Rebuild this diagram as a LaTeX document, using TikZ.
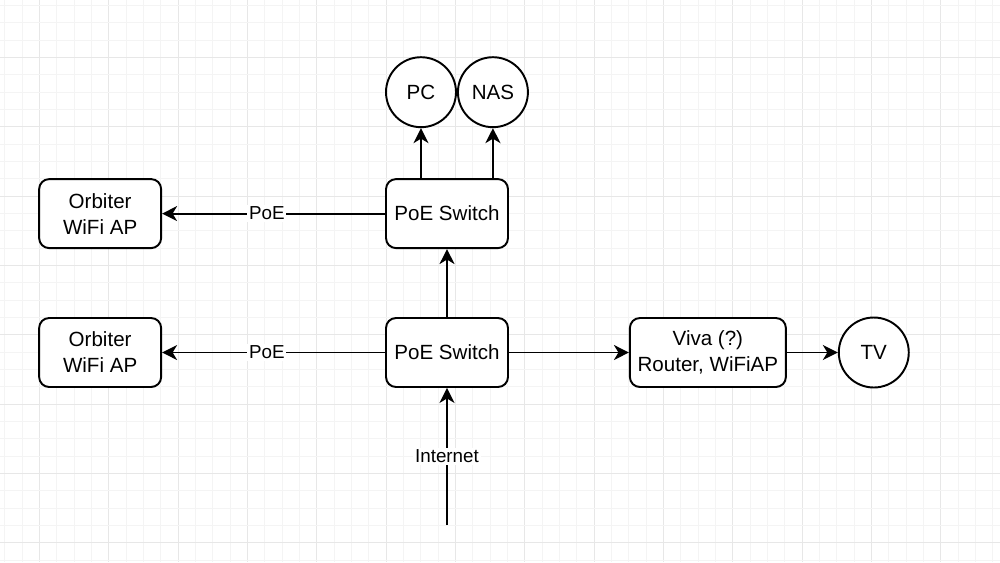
\documentclass[tikz,border=0pt]{standalone}
\usepackage{fontspec}
\setmainfont{Liberation Sans}
\usepackage{tikz}
\usetikzlibrary{arrows.meta,positioning}
\definecolor{gridminor}{HTML}{F4F4F4}
\definecolor{gridmajor}{HTML}{E7E7E7}
\tikzset{
  devbox/.style={rounded corners=0.2cm, draw=black, line width=1.1pt, fill=white, align=center, minimum width=2.44cm, minimum height=1.38cm, font=\fontsize{11.7}{14.8}\selectfont},
  endpt/.style={circle, draw=black, line width=1.1pt, fill=white, minimum size=1.4cm, inner sep=0pt, font=\fontsize{11.7}{14}\selectfont},
  link/.style={-{Stealth[length=3mm, width=3mm, inset=0.9mm]}, line width=1.1pt, draw=black},
  tag/.style={fill=white, inner sep=1pt, font=\fontsize{10.7}{12}\selectfont}
}

\begin{document}
\begin{tikzpicture}[x=0.02cm, y=-0.02cm]
  % background and grid
  \fill[white] (0,0) rectangle (1000,562);
  \useasboundingbox (0,0) rectangle (1000,562);
  \foreach \i in {0,...,57} {
    \pgfmathsetmacro{\gx}{round(4.33+17.333*\i)+0.5}
    \pgfmathtruncatemacro{\ismajor}{mod(\i+2,4)==0}
    \ifnum\ismajor=1
      \draw[gridmajor, line width=0.02cm] (\gx,0) -- (\gx,562);
    \else
      \draw[gridminor, line width=0.02cm] (\gx,0) -- (\gx,562);
    \fi
  }
  \foreach \j in {0,...,32} {
    \pgfmathsetmacro{\gy}{round(4.97+17.333*\j)+0.5}
    \pgfmathtruncatemacro{\ismajor}{mod(\j+1,4)==0}
    \ifnum\ismajor=1
      \draw[gridmajor, line width=0.02cm] (0,\gy) -- (1000,\gy);
    \else
      \draw[gridminor, line width=0.02cm] (0,\gy) -- (1000,\gy);
    \fi
  }

  % nodes
  \node[devbox] (mainsw) at (447,352.5) {PoE Switch};
  \node[devbox, above=1.36cm of mainsw] (upsw) {PoE Switch};
  \node[devbox, left=4.46cm of mainsw] (apone) {Orbiter\\WiFi AP};
  \node[devbox, left=4.46cm of upsw] (aptwo) {Orbiter\\WiFi AP};
  \node[devbox, minimum width=3.12cm, right=2.4cm of mainsw] (viva) {Viva (?)\\Router, WiFiAP};
  \node[endpt, right=1.02cm of viva] (tv) {TV};
  \node[endpt, above=1.0cm of upsw, xshift=-0.52cm] (pc) {PC};
  \node[endpt, right=0pt of pc] (nas) {NAS};
  \coordinate (inet) at (447,525);

  % links
  \draw[link] (inet) -- node[tag] {Internet} (mainsw);
  \draw[link] (mainsw) -- (upsw);
  \draw[link] (mainsw) -- node[tag, pos=0.53] {PoE} (apone);
  \draw[link] (upsw) -- node[tag, pos=0.53] {PoE} (aptwo);
  \draw[link] (mainsw) -- (viva);
  \draw[link] (viva) -- (tv);
  \draw[link] (upsw.north -| pc) -- (pc);
  \draw[link] (upsw.north -| nas) -- (nas);
\end{tikzpicture}
\end{document}
